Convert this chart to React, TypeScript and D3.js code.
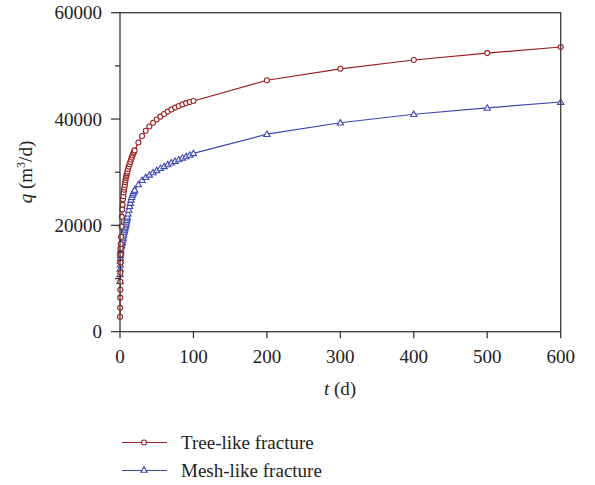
import React from "react";
import * as d3 from "d3";

const times = [
  0.1, 0.2, 0.3, 0.4, 0.5, 0.6, 0.7, 0.8, 0.9, 1,
  1.5, 2, 2.5, 3, 3.5, 4, 4.5, 5, 5.5, 6, 6.5, 7, 7.5, 8, 8.5, 9, 9.5, 10,
  11, 12, 13, 14, 15, 16, 17, 18, 19, 20,
  25, 30, 35, 40, 45, 50, 55, 60, 65, 70, 75, 80, 85, 90, 95, 100,
  200, 300, 400, 500, 600,
];

const treeLike = [
  2800, 4500, 6400, 7900, 9400, 11100, 13000, 14500, 15700, 16500,
  17800, 19800, 21600, 23000, 23900, 24900, 25500, 26200, 26700, 27100, 27600, 28100, 28500, 28900, 29200, 29500, 29800, 30100,
  30600, 31050, 31500, 31900, 32350, 32750, 33150, 33500, 33800, 34100,
  35600, 36800, 37800, 38600, 39300, 39900, 40450, 40950, 41400, 41800, 42150, 42450, 42750, 43000, 43200, 43400,
  47300, 49450, 51100, 52400, 53550,
];

const meshLike = [
  9500, 10800, 11800, 12600, 13300, 13900, 14400, 14800, 15200, 15500,
  16000, 16300, 16600, 16850, 17250, 17650, 18000, 18400, 18750, 19050, 19400, 19700, 20000, 20300, 20650, 20950, 21300, 21600,
  22200, 22900, 23600, 24200, 24800, 25300, 25750, 26100, 26400, 26650,
  27700, 28500, 29050, 29500, 29950, 30350, 30750, 31100, 31450, 31800, 32100, 32400, 32700, 32950, 33250, 33550,
  37150, 39300, 40900, 42100, 43200,
];

const xTicks = [0, 100, 200, 300, 400, 500, 600];
const yMajorTicks = [0, 20000, 40000, 60000];
const yMinorTicks = [10000, 30000, 50000];
const seriesNames = ["Tree-like fracture", "Mesh-like fracture"];

const RED = "#9c1f1f";
const BLUE = "#3d48b0";
const AXIS = "#3a3a3a";
const FONT = "'Liberation Serif', 'DejaVu Serif', serif";

export default function App() {
  const x = d3.scaleLinear().domain([0, 600]).range([120, 560.7]);
  const y = d3.scaleLinear().domain([0, 60000]).range([331.7, 12.7]);

  const redPts = times.map((t, i) => [x(t), y(treeLike[i])] as [number, number]);
  const bluePts = times.map((t, i) => [x(t), y(meshLike[i])] as [number, number]);
  const line = d3.line();
  const tri = d3.symbol().type(d3.symbolTriangle).size(17)() as string;

  const [x0, x1] = x.range();
  const [yb, yt] = y.range();

  const legendY = [442.5, 470.5];

  return (
    <svg
      width={595}
      height={485}
      style={{ position: "absolute", left: 0, top: 0, display: "block", background: "#fff" }}
      fontFamily={FONT}
    >
      {/* series lines */}
      <path d={line(bluePts) as string} fill="none" stroke={BLUE} strokeWidth={1.2} />
      {bluePts.map((p, i) => (
        <path key={"b" + i} d={tri} transform={`translate(${p[0]},${p[1] + 0.5})`} fill="#fff" stroke={BLUE} strokeWidth={1.1} />
      ))}
      <path d={line(redPts) as string} fill="none" stroke={RED} strokeWidth={1.2} />
      {redPts.map((p, i) => (
        <circle key={"r" + i} cx={p[0]} cy={p[1]} r={2.5} fill="#fff" stroke={RED} strokeWidth={1.1} />
      ))}

      {/* frame */}
      <rect x={x0} y={yt} width={x1 - x0} height={yb - yt} fill="none" stroke={AXIS} strokeWidth={1.3} />

      {/* y ticks */}
      {yMajorTicks.map((v) => (
        <g key={"ym" + v}>
          <line x1={x0 - 9} x2={x0} y1={y(v)} y2={y(v)} stroke={AXIS} strokeWidth={1.3} />
          <text x={x0 - 18} y={y(v)} dy="0.35em" textAnchor="end" fontSize={19} fill="#222">
            {v}
          </text>
        </g>
      ))}
      {yMinorTicks.map((v) => (
        <line key={"yn" + v} x1={x0 - 5} x2={x0} y1={y(v)} y2={y(v)} stroke={AXIS} strokeWidth={1.3} />
      ))}

      {/* x ticks */}
      {xTicks.map((v) => (
        <g key={"x" + v}>
          <line x1={x(v)} x2={x(v)} y1={yb} y2={yb + 6.5} stroke={AXIS} strokeWidth={1.3} />
          <text x={x(v)} y={363} textAnchor="middle" fontSize={19} fill="#222">
            {v}
          </text>
        </g>
      ))}

      {/* axis titles */}
      <text x={340} y={395} textAnchor="middle" fontSize={19} fill="#222">
        <tspan fontStyle="italic">t</tspan> (d)
      </text>
      <text transform="translate(32,172) rotate(-90)" textAnchor="middle" fontSize={19} fill="#222">
        <tspan fontStyle="italic">q</tspan> (m<tspan fontSize={12} dy={-7}>3</tspan><tspan dy={7}>/d)</tspan>
      </text>

      {/* legend */}
      {seriesNames.map((name, i) => {
        const ly = legendY[i];
        const col = i === 0 ? RED : BLUE;
        return (
          <g key={name}>
            <line x1={122} x2={167} y1={ly} y2={ly} stroke={col} strokeWidth={1.2} />
            {i === 0 ? (
              <circle cx={144} cy={ly} r={2.5} fill="#fff" stroke={col} strokeWidth={1.1} />
            ) : (
              <path d={tri} transform={`translate(144,${ly})`} fill="#fff" stroke={col} strokeWidth={1.1} />
            )}
            <text x={181} y={ly + 6} fontSize={19} fill="#222">
              {name}
            </text>
          </g>
        );
      })}
    </svg>
  );
}
